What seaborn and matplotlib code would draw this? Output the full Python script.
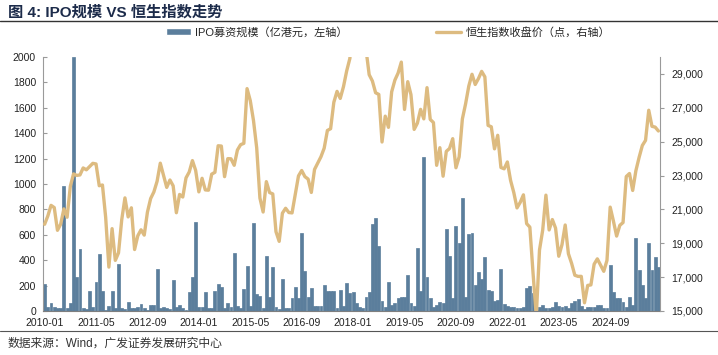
import numpy as np
import pandas as pd
import seaborn as sns
import matplotlib.pyplot as plt
from matplotlib.patches import Patch
from matplotlib.lines import Line2D
from matplotlib.ticker import FuncFormatter

# monthly, 2010-01 .. 2025-12
months = pd.date_range("2010-01-01", "2025-12-01", freq="MS").strftime("%Y-%m").tolist()

# IPO fundraising (HK$ 100m)
ipo_2010 = [210, 34, 65, 34, 26, 26, 984, 26, 65, 2000, 265, 485]
ipo_2011 = [26, 13, 160, 34, 228, 451, 160, 5, 39, 157, 20, 367]
ipo_2012 = [21, 15, 68, 21, 21, 34, 52, 21, 10, 47, 51, 328]
ipo_2013 = [21, 34, 21, 15, 244, 34, 51, 21, 10, 150, 270, 703]
ipo_2014 = [34, 34, 152, 26, 20, 160, 210, 192, 20, 60, 34, 454]
ipo_2015 = [39, 20, 176, 357, 40, 690, 131, 120, 20, 435, 113, 349]
ipo_2016 = [34, 12, 249, 26, 20, 100, 192, 100, 611, 317, 113, 178]
ipo_2017 = [39, 39, 40, 205, 160, 160, 160, 26, 165, 40, 223, 139]
ipo_2018 = [150, 60, 34, 23, 113, 147, 685, 730, 514, 80, 34, 231]
ipo_2019 = [47, 60, 100, 113, 110, 281, 60, 40, 498, 160, 1214, 270]
ipo_2020 = [100, 34, 47, 73, 60, 643, 433, 100, 671, 538, 887, 113]
ipo_2021 = [606, 617, 205, 307, 249, 428, 165, 160, 80, 87, 333, 52]
ipo_2022 = [42, 34, 34, 20, 20, 30, 184, 197, 144, 5, 34, 47]
ipo_2023 = [20, 20, 34, 68, 39, 34, 37, 20, 60, 81, 92, 42]
ipo_2024 = [15, 30, 30, 34, 47, 47, 20, 20, 362, 152, 100, 100]
ipo_2025 = [73, 34, 113, 47, 577, 323, 205, 100, 538, 323, 422, 349]

# Hang Seng Index month-end close (points)
hsi_2010 = [20122, 20609, 21239, 21108, 19765, 20129, 21030, 20537, 22359, 23096, 23008, 23035]
hsi_2011 = [23447, 23338, 23528, 23720, 23684, 22398, 22440, 20535, 17592, 19864, 17989, 18434]
hsi_2012 = [20390, 21680, 20556, 21094, 18630, 19441, 19796, 19482, 20840, 21642, 22030, 22657]
hsi_2013 = [23730, 23020, 22300, 22737, 22392, 20803, 21883, 21731, 22860, 23206, 23882, 23306]
hsi_2014 = [22035, 22837, 22151, 22134, 23082, 23191, 24757, 24742, 22933, 23998, 23987, 23605]
hsi_2015 = [24507, 24823, 24901, 28133, 27424, 26250, 24636, 21671, 20846, 22640, 21996, 21914]
hsi_2016 = [19683, 19112, 20777, 21067, 20815, 20794, 21891, 22977, 23297, 22935, 22790, 22001]
hsi_2017 = [23361, 23741, 24112, 24615, 25661, 25765, 27324, 27970, 27554, 28246, 29177, 29919]
hsi_2018 = [32887, 30845, 30093, 30808, 30469, 28955, 28583, 27889, 27789, 24980, 26507, 25846]
hsi_2019 = [27942, 28633, 29051, 29699, 26901, 28543, 27778, 25725, 26092, 26907, 26346, 28190]
hsi_2020 = [26313, 26130, 23603, 24644, 22961, 24427, 24595, 25177, 23459, 24107, 26341, 27231]
hsi_2021 = [28284, 28980, 28378, 28725, 29152, 28828, 25961, 25879, 24576, 25377, 23475, 23398]
hsi_2022 = [23802, 22713, 21997, 21089, 21415, 21860, 20157, 19954, 17223, 14687, 18597, 19781]
hsi_2023 = [21842, 19786, 20400, 19895, 18234, 18916, 20079, 18382, 17810, 17112, 17043, 17047]
hsi_2024 = [15485, 16511, 16541, 17763, 18080, 17719, 17345, 17989, 21134, 20317, 19424, 20060]
hsi_2025 = [20225, 22941, 23120, 22119, 23290, 24072, 24773, 25077, 26856, 25907, 25859, 25631]

ipo = (ipo_2010 + ipo_2011 + ipo_2012 + ipo_2013 + ipo_2014 + ipo_2015 + ipo_2016 + ipo_2017
       + ipo_2018 + ipo_2019 + ipo_2020 + ipo_2021 + ipo_2022 + ipo_2023 + ipo_2024 + ipo_2025)
hsi = (hsi_2010 + hsi_2011 + hsi_2012 + hsi_2013 + hsi_2014 + hsi_2015 + hsi_2016 + hsi_2017
       + hsi_2018 + hsi_2019 + hsi_2020 + hsi_2021 + hsi_2022 + hsi_2023 + hsi_2024 + hsi_2025)

df = pd.DataFrame({"month": months, "ipo": ipo, "hsi": hsi})
df["pos"] = np.arange(len(df))

BAR = "#5b7e9c"
LINE = "#ddbb80"
GREY = "#9a9a9a"

sns.set_style("white")
plt.rcParams["font.family"] = ["Liberation Sans", "Noto Sans CJK SC", "DejaVu Sans"]

W, H = 718, 355
fig = plt.figure(figsize=(W / 100, H / 100), dpi=100)
ax = fig.add_axes([43 / W, 1 - 311 / H, 617 / W, 254 / H])

sns.barplot(data=df, x="month", y="ipo", color=BAR, saturation=1, width=0.9,
            errorbar=None, ax=ax, zorder=2, edgecolor=BAR, linewidth=0.5)
ax.set_ylim(0, 2000)
ax.set_yticks(range(0, 2001, 200))
ax.set_xlim(-0.5, len(df) - 0.5)
ax.set_xticks(range(0, len(df), 16))
ax.set_xticklabels(months[::16])
ax.set_xlabel("")
ax.set_ylabel("")

ax2 = ax.twinx()
sns.lineplot(x=df["pos"], y=df["hsi"], ax=ax2, color=LINE, lw=2.4, zorder=3)
ax2.set_ylim(15000, 30000)
ax2.set_yticks(range(15000, 29001, 2000))
ax2.yaxis.set_major_formatter(FuncFormatter(lambda v, p: f"{int(v):,}"))
ax2.set_ylabel("")
ax2.set_xlim(-0.5, len(df) - 0.5)

for a in (ax, ax2):
    for s in a.spines.values():
        s.set_visible(False)
ax.spines["left"].set_visible(True)
ax.spines["left"].set_color(GREY)
ax.spines["bottom"].set_visible(True)
ax.spines["bottom"].set_color("#7f7f7f")
ax2.spines["right"].set_visible(True)
ax2.spines["right"].set_color(GREY)

ax.tick_params(axis="y", direction="in", length=3, color=GREY, labelsize=7.5,
               labelcolor="#222222", pad=5)
ax.tick_params(axis="x", direction="in", length=3, color="#7f7f7f", labelsize=7.5,
               labelcolor="#222222", pad=5)
ax2.tick_params(axis="y", direction="out", length=3, color=GREY, labelsize=7.5,
                labelcolor="#222222", pad=5)

# title, rules, legend, source
fig.text(8 / W, 1 - 12 / H, "图 4: IPO规模 VS 恒生指数走势", fontsize=11,
         fontweight="bold", color="#1c2b4a", va="center")
fig.add_artist(Line2D([0, 1], [1 - 21 / H] * 2, color="#333333", lw=1.0,
                      transform=fig.transFigure))
fig.add_artist(Line2D([0, 1], [1 - 331 / H] * 2, color="#555555", lw=0.8,
                      transform=fig.transFigure))
fig.text(8 / W, 1 - 344 / H, "数据来源：Wind，广发证券发展研究中心", fontsize=8.5,
         color="#333333", va="center")

handles = [Patch(facecolor=BAR, label="IPO募资规模（亿港元，左轴）"),
           Line2D([], [], color=LINE, lw=2.4, label="恒生指数收盘价（点，右轴）")]
fig.legend(handles=handles, loc="center", bbox_to_anchor=(388 / W, 1 - 32 / H), ncol=2,
           frameon=False, fontsize=8, columnspacing=8, handlelength=2.2,
           handleheight=0.7, handletextpad=0.4)

fig.savefig("out.png", dpi=100)
